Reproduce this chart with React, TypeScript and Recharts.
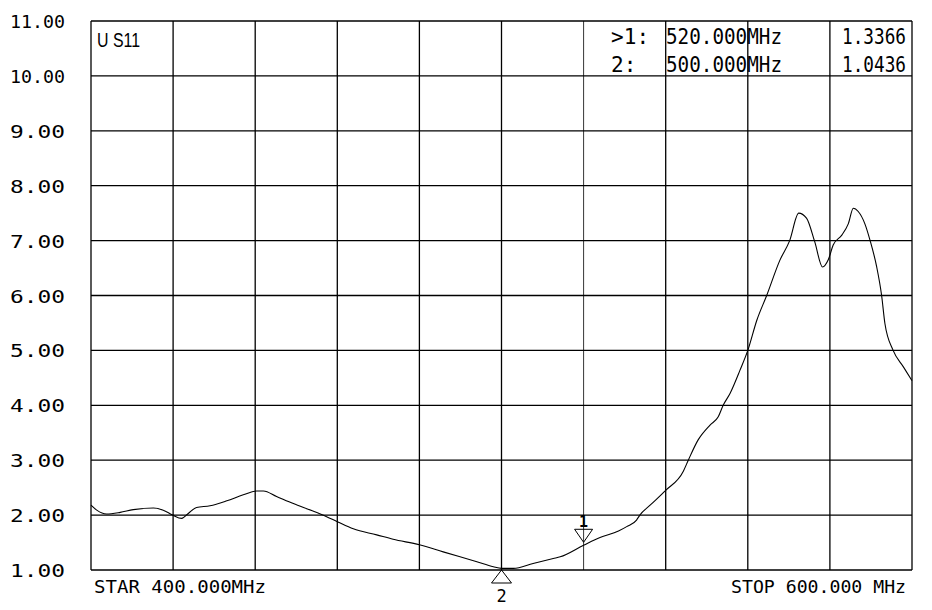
import React from "react";
import {
  LineChart,
  Line,
  XAxis,
  YAxis,
  ReferenceLine,
  ReferenceDot,
} from "recharts";

// trace: frequency (MHz) and SWR
const freqs = [
  400, 401.4, 403.8, 407.1, 410.3, 415.2, 417.6, 419.9, 422.1, 423.7, 425.7,
  429, 433.1, 437.1, 440.4, 442, 445.2, 449.3, 454.2, 457.4, 460, 463.9, 469.6,
  473.6, 480, 485.8, 494, 498, 500, 502.9, 507.7, 512.6, 514.3, 520, 524,
  528.5, 530.5, 532.9, 533.7, 536.2, 540, 544.3, 545.5, 547.9, 550.8, 552.8,
  554, 555.7, 558.1, 560, 562.2, 564.6, 567.8, 570.2, 572.4, 574.3, 576.3,
  578.2, 579.6, 580.8, 582.9, 584.5, 585.7, 586.9, 588.5, 589.8, 591.4, 592.6,
  593.4, 595.4, 597.9, 600,
];
const swr = [
  2.18, 2.09, 2.02, 2.05, 2.1, 2.13, 2.09, 2.0, 1.94, 2.03, 2.14, 2.17, 2.26,
  2.37, 2.44, 2.44, 2.34, 2.21, 2.07, 1.97, 1.88, 1.75, 1.64, 1.56, 1.46, 1.33,
  1.15, 1.06, 1.03, 1.03, 1.12, 1.21, 1.24, 1.45, 1.59, 1.71, 1.79, 1.91, 2.0,
  2.18, 2.45, 2.8, 3.0, 3.37, 3.64, 3.79, 4.0, 4.22, 4.64, 5.0, 5.55, 6.0,
  6.64, 7.0, 7.5, 7.41, 6.98, 6.52, 6.65, 6.92, 7.1, 7.31, 7.59, 7.53, 7.31,
  7.0, 6.52, 6.0, 5.49, 5.0, 4.7, 4.45,
];

const yTicks = [1, 2, 3, 4, 5, 6, 7, 8, 9, 10, 11];
const gridFreqs = [400, 420, 440, 460, 480, 500, 520, 540, 560, 580, 600];
const edgeFreqs = [400, 600];
const edgeLabels = ["STAR 400.000MHz", "STOP 600.000 MHz"];

const marker1 = { freq: 520, value: 1.45, label: "1" };
const marker2 = { freq: 500, value: 1.0, label: "2" };

const readoutRows = [
  { name: ">1:", freq: "520.000MHz", value: "1.3366" },
  { name: "2:", freq: "500.000MHz", value: "1.0436" },
];

const data = freqs.map((f, i) => ({ freq: f, swr: swr[i] }));

const MONO = "'DejaVu Sans Mono', monospace";

const YTick = ({ x, y, payload }: any) => (
  <text
    x={x - 26}
    y={y}
    dy={7}
    textAnchor="end"
    fontFamily={MONO}
    fontSize={18}
    textLength={55}
    lengthAdjust="spacingAndGlyphs"
    fill="#000"
  >
    {Number(payload.value).toFixed(2)}
  </text>
);

const XTick = ({ x, y, payload }: any) => {
  const idx = edgeFreqs.indexOf(payload.value);
  const first = idx === 0;
  return (
    <text
      x={first ? x + 3 : x - 6}
      y={y + 23}
      textAnchor={first ? "start" : "end"}
      fontFamily={MONO}
      fontSize={18}
      textLength={first ? 172 : 175}
      lengthAdjust="spacingAndGlyphs"
      fill="#000"
    >
      {edgeLabels[idx]}
    </text>
  );
};

const DownMarker = ({ cx, cy }: any) => (
  <g>
    <path
      d={`M${cx},${cy - 3} L${cx - 9},${cy - 16} L${cx + 9},${cy - 16} Z`}
      fill="none"
      stroke="#000"
      strokeWidth={1}
    />
    <text
      x={cx}
      y={cy - 18}
      textAnchor="middle"
      fontFamily={MONO}
      fontSize={15}
      fontWeight="bold"
      fill="#000"
    >
      {marker1.label}
    </text>
  </g>
);

const UpMarker = ({ cx, cy }: any) => (
  <g>
    <path
      d={`M${cx},${cy} L${cx - 10},${cy + 13} L${cx + 10},${cy + 13} Z`}
      fill="none"
      stroke="#000"
      strokeWidth={1}
    />
    <text
      x={cx}
      y={cy + 32}
      textAnchor="middle"
      fontFamily={MONO}
      fontSize={17}
      fill="#000"
    >
      {marker2.label}
    </text>
  </g>
);

export default function App() {
  return (
    <div
      style={{
        position: "absolute",
        left: 0,
        top: 0,
        width: 932,
        height: 610,
        background: "#fff",
      }}
    >
      <LineChart
        width={932}
        height={610}
        data={data}
        margin={{ top: 21, right: 20, bottom: 0, left: 0 }}
      >
        <XAxis
          type="number"
          dataKey="freq"
          domain={[400, 600]}
          ticks={edgeFreqs}
          tick={<XTick />}
          tickSize={0}
          tickMargin={0}
          axisLine={false}
          tickLine={false}
          height={40}
        />
        <YAxis
          type="number"
          domain={[1, 11]}
          ticks={yTicks}
          tick={<YTick />}
          tickSize={0}
          tickMargin={0}
          axisLine={false}
          tickLine={false}
          width={91}
        />
        {yTicks.map((v) => (
          <ReferenceLine key={`h${v}`} y={v} stroke="#000" strokeWidth={1.3} />
        ))}
        {gridFreqs.map((f) => (
          <ReferenceLine
            key={`v${f}`}
            x={f}
            stroke="#000"
            strokeWidth={f === marker1.freq ? 0.8 : 1.3}
          />
        ))}
        <Line
          type="monotone"
          dataKey="swr"
          stroke="#000"
          strokeWidth={1.1}
          dot={false}
          isAnimationActive={false}
        />
        <ReferenceDot
          x={marker1.freq}
          y={marker1.value}
          r={0}
          shape={DownMarker}
        />
        <ReferenceDot
          x={marker2.freq}
          y={marker2.value}
          r={0}
          shape={UpMarker}
        />
      </LineChart>
      <svg
        width={932}
        height={610}
        style={{ position: "absolute", left: 0, top: 0, pointerEvents: "none" }}
      >
        <text
          x={97}
          y={47}
          fontFamily="'Liberation Sans', sans-serif"
          fontSize={20}
          textLength={43}
          lengthAdjust="spacingAndGlyphs"
          fill="#000"
        >
          U S11
        </text>
        {readoutRows.map((r, i) => {
          const y = 43.5 + i * 28;
          const common = {
            fontFamily: MONO,
            fontSize: 22,
            lengthAdjust: "spacingAndGlyphs",
            fill: "#000",
          };
          return (
            <g key={r.name}>
              <text x={611} y={y} {...common} textLength={r.name.length * 12.7}>
                {r.name}
              </text>
              <text x={666} y={y} {...common} textLength={116}>
                {r.freq}
              </text>
              <text x={842} y={y} {...common} textLength={64}>
                {r.value}
              </text>
            </g>
          );
        })}
      </svg>
    </div>
  );
}
